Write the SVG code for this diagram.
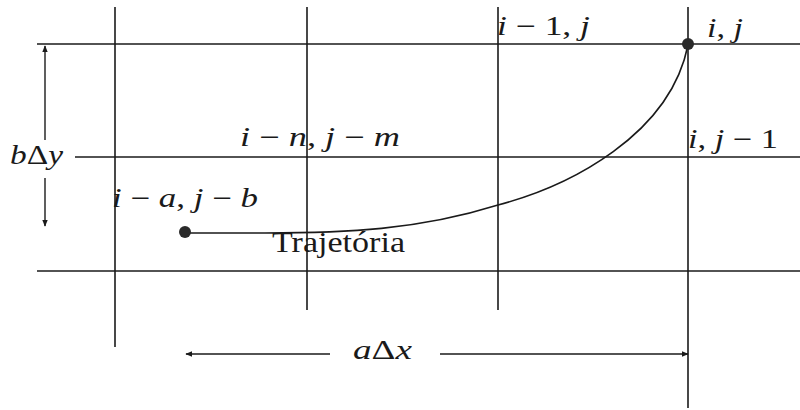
<svg xmlns="http://www.w3.org/2000/svg" width="800" height="410" viewBox="0 0 800 410">
<defs>
<style>
.ln{stroke:#1a1a1a;stroke-width:1.6;fill:none}
.ar{stroke:#1a1a1a;stroke-width:1.4;fill:none}
.m{font-family:"Liberation Serif","DejaVu Serif",serif;font-size:27px;fill:#1a1a1a}
.it{font-style:italic}
.r{font-family:"Liberation Serif","DejaVu Serif",serif;font-size:29px;fill:#1a1a1a}
.dot{fill:#2a2a2a}
</style>
<marker id="ah" viewBox="0 0 10 8" refX="9" refY="4" markerWidth="7" markerHeight="6" markerUnits="userSpaceOnUse" orient="auto">
<path d="M0,0 L10,4 L0,8 Z" fill="#1a1a1a"/>
</marker>
</defs>
<rect width="800" height="410" fill="#ffffff"/>
<g id="grid">
<line class="ln" x1="37" y1="44" x2="800" y2="44"/>
<line class="ln" x1="75" y1="157" x2="800" y2="157"/>
<line class="ln" x1="37" y1="271" x2="800" y2="271"/>
<line class="ln" x1="115" y1="7" x2="115" y2="347"/>
<line class="ln" x1="307" y1="7" x2="307" y2="310"/>
<line class="ln" x1="498" y1="7" x2="498" y2="310"/>
<line class="ln" x1="688" y1="7" x2="688" y2="408"/>
</g>
<g id="connectors">
<path id="trajectory" class="ln" d="M185,233 L265,233 C345,233 418,230 498,205 C570,186 670,135 688,45"/>
<line class="ar" x1="45" y1="140" x2="45" y2="46" marker-end="url(#ah)"/>
<line class="ar" x1="45" y1="178" x2="45" y2="226" marker-end="url(#ah)"/>
<line class="ar" x1="330" y1="354" x2="186" y2="354" marker-end="url(#ah)"/>
<line class="ar" x1="440" y1="354" x2="688" y2="354" marker-end="url(#ah)"/>
</g>
<g id="node-start">
<circle class="dot" cx="185" cy="232" r="6"/>
<text class="m" x="112" y="207" textLength="146" lengthAdjust="spacingAndGlyphs"><tspan class="it">i</tspan> − <tspan class="it">a</tspan>, <tspan class="it">j</tspan> − <tspan class="it">b</tspan></text>
</g>
<g id="node-end">
<circle class="dot" cx="688" cy="44" r="6"/>
<text class="m" x="707" y="37" textLength="36" lengthAdjust="spacingAndGlyphs"><tspan class="it">i</tspan>, <tspan class="it">j</tspan></text>
</g>
<g id="label-im1j">
<text class="m" x="497" y="35" textLength="93" lengthAdjust="spacingAndGlyphs"><tspan class="it">i</tspan> − 1, <tspan class="it">j</tspan></text>
</g>
<g id="label-injm">
<text class="m" x="240" y="146" textLength="160" lengthAdjust="spacingAndGlyphs"><tspan class="it">i</tspan> − <tspan class="it">n</tspan>, <tspan class="it">j</tspan> − <tspan class="it">m</tspan></text>
</g>
<g id="label-ijm1">
<text class="m" x="688" y="148" textLength="90" lengthAdjust="spacingAndGlyphs"><tspan class="it">i</tspan>, <tspan class="it">j</tspan> − 1</text>
</g>
<g id="label-traj">
<text class="r" x="272" y="252" textLength="133" lengthAdjust="spacingAndGlyphs">Trajetória</text>
</g>
<g id="label-bdy">
<text class="m" x="10" y="164" textLength="53" lengthAdjust="spacingAndGlyphs"><tspan class="it">b</tspan>Δ<tspan class="it">y</tspan></text>
</g>
<g id="label-adx">
<text class="m" x="353" y="359" textLength="59" lengthAdjust="spacingAndGlyphs"><tspan class="it">a</tspan>Δ<tspan class="it">x</tspan></text>
</g>
</svg>
